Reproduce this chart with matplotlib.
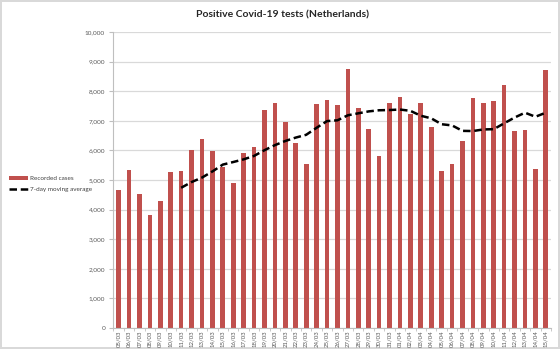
import matplotlib
matplotlib.use('Agg')
import matplotlib.pyplot as plt
import numpy as np

plt.rcParams['font.family'] = ['Lato', 'DejaVu Sans']

# data
dates = ['05/03', '06/03', '07/03', '08/03', '09/03', '10/03', '11/03', '12/03', '13/03', '14/03',
         '15/03', '16/03', '17/03', '18/03', '19/03', '20/03', '21/03', '22/03', '23/03', '24/03',
         '25/03', '26/03', '27/03', '28/03', '29/03', '30/03', '31/03', '01/04', '02/04', '03/04',
         '04/04', '05/04', '06/04', '07/04', '08/04', '09/04', '10/04', '11/04', '12/04', '13/04',
         '14/04', '15/04']
cases = [4660, 5330, 4520, 3830, 4280, 5260, 5300, 6010, 6390, 5970,
         5450, 4890, 5900, 6110, 7360, 7590, 6950, 6250, 5550, 7560,
         7690, 7550, 8770, 7420, 6710, 5810, 7620, 7810, 7240, 7610,
         6810, 5310, 5530, 6330, 7770, 7620, 7670, 8200, 6670, 6680,
         5370, 8730]
# 7-day moving average, starts at 11/03
ma_start = 6
moving_avg = [4740, 4933, 5084, 5291, 5523, 5610, 5701, 5817, 6010, 6181,
              6321, 6436, 6530, 6767, 6993, 7020, 7189, 7256, 7321, 7359,
              7367, 7384, 7340, 7174, 7087, 6887, 6847, 6663, 6657, 6711,
              6720, 6919, 7113, 7277, 7140, 7277]

fig = plt.figure(figsize=(5.6, 3.49), dpi=100)
fig.patch.set_edgecolor('#d9d9d9')
fig.patch.set_linewidth(1.5)
ax = fig.add_axes([0.2025, 0.060, 0.7815, 0.848])

x = np.arange(len(dates))
bars = ax.bar(x, cases, width=0.45, color='#C0504D', label='Recorded cases', zorder=2)
line, = ax.plot(x[ma_start:], moving_avg, color='black', linestyle=(0, (3, 1.5)), linewidth=1.8,
                label='7-day moving average', zorder=3)

ax.set_xlim(-0.5, len(dates) - 0.5)
ax.set_ylim(0, 10000)
ax.set_yticks(np.arange(0, 10001, 1000))
ax.set_yticklabels([f'{v:,}' for v in range(0, 10001, 1000)])
ax.set_xticks(x)
ax.set_xticklabels(dates, rotation=90)
ax.set_xticks(np.arange(-0.5, len(dates), 1), minor=True)

ax.grid(axis='y', color='#d9d9d9', linewidth=0.9, zorder=0)
ax.set_axisbelow(True)
for s in ['top', 'right']:
    ax.spines[s].set_visible(False)
ax.spines['left'].set_color('#bfbfbf')
ax.spines['bottom'].set_color('#bfbfbf')
ax.tick_params(axis='y', labelsize=4.6, labelcolor='#595959', color='#bfbfbf', length=3, pad=3)
ax.tick_params(axis='x', which='major', labelsize=4.3, labelcolor='#595959', length=0, pad=1.5)
ax.tick_params(axis='x', which='minor', color='#bfbfbf', length=2.5)

fig.text(0.505, 0.957, 'Positive Covid-19 tests (Netherlands)', ha='center', va='center',
         fontsize=7.5, fontweight='bold', color='#262626')

fig.legend([bars, line], ['Recorded cases', '7-day moving average'],
           loc='center left', bbox_to_anchor=(0.005, 0.473), frameon=False, fontsize=4.6,
           handlelength=3.0, handleheight=0.6, handletextpad=0.3, labelspacing=0.9,
           labelcolor='#404040')

fig.savefig('out.png', dpi=100)
